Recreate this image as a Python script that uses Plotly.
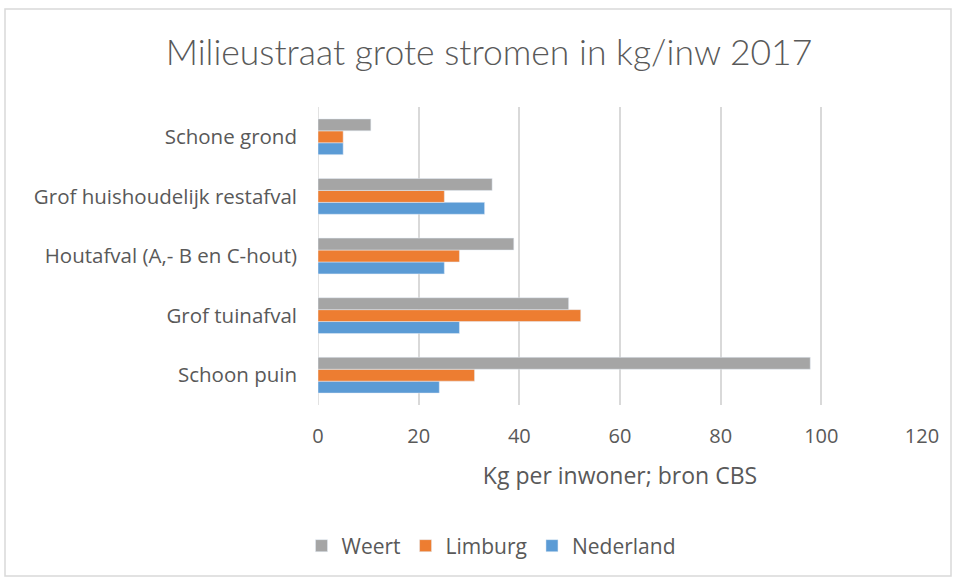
import plotly.graph_objects as go

categories = ["Schoon puin", "Grof tuinafval", "Houtafval (A,- B en C-hout)",
              "Grof huishoudelijk restafval", "Schone grond"]
nederland = [24.1, 28.1, 25.1, 33.1, 5.0]
limburg = [31.1, 52.2, 28.1, 25.1, 5.0]
weert = [97.8, 49.8, 38.9, 34.6, 10.5]

tick_vals = [0, 20, 40, 60, 80, 100, 120]

FONT = "'Open Sans', sans-serif"
TFONT = "Lato, sans-serif"
GREY = "#595959"

fig = go.Figure()
fig.add_trace(go.Bar(y=categories, x=nederland, name="Nederland", orientation="h",
                     marker=dict(color="#5b9bd5")))
fig.add_trace(go.Bar(y=categories, x=limburg, name="Limburg", orientation="h",
                     marker=dict(color="#ed7d31")))
fig.add_trace(go.Bar(y=categories, x=weert, name="Weert", orientation="h",
                     marker=dict(color="#a5a5a5")))

L, R, T, B = 318, 35, 107, 175
W, H = 957, 580
pw, ph = W - L - R, H - T - B

def px_x(x):
    return (x - L) / pw

def px_y(y):
    return (H - B - y) / ph

fig.update_layout(
    width=W, height=H,
    margin=dict(l=L, r=R, t=T, b=B, autoexpand=False),
    paper_bgcolor="white", plot_bgcolor="white",
    barmode="group", bargap=0.4, bargroupgap=0,
    font=dict(family=FONT, color=GREY),
    title=dict(text="Milieustraat grote stromen in kg/inw 2017",
               xref="container", x=489 / W, xanchor="center",
               y=1 - 53 / H, yanchor="middle",
               font=dict(size=35.5, color=GREY, family=TFONT, weight=300)),
    xaxis=dict(range=[0, 120], tickvals=tick_vals, showgrid=True, automargin=False,
               gridcolor="#d9d9d9", gridwidth=1.5, zeroline=False,
               showline=False, ticks="", tickfont=dict(size=20, color=GREY),
               ticklabelstandoff=17, tickangle=0,
               title=dict(text="Kg per inwoner; bron CBS", font=dict(size=23, color=GREY),
                          standoff=19)),
    yaxis=dict(showgrid=False, zeroline=False, showline=False, ticks="", automargin=False,
               tickfont=dict(size=20.5, color=GREY), ticklabelstandoff=20),
    legend=dict(orientation="h", x=px_x(491), xanchor="center",
                y=px_y(546), yanchor="middle",
                traceorder="reversed", font=dict(size=21, color=GREY),
                itemwidth=30, tracegroupgap=0),
    shapes=[
        dict(type="rect", xref="paper", yref="paper",
             x0=px_x(5), x1=px_x(951), y0=px_y(576), y1=px_y(9),
             line=dict(color="#d9d9d9", width=1.5), layer="below"),
        dict(type="line", xref="x", yref="paper", x0=0, x1=0, y0=0, y1=1,
             line=dict(color="#d9d9d9", width=1.5), layer="below"),
    ],
)

fig.write_html("out.html", config={"displayModeBar": False},
               post_script="document.body.style.margin='0';document.body.style.overflow='hidden';")
